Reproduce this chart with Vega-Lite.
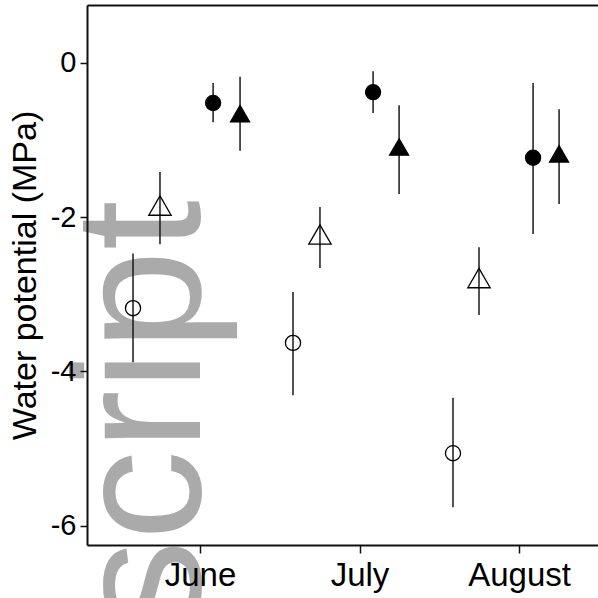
{
  "$schema": "https://vega.github.io/schema/vega-lite/v6.json",
  "width": 511,
  "height": 540,
  "autosize": {"type": "none"},
  "padding": {"left": 87, "top": 5, "right": 0, "bottom": 53},
  "background": "white",
  "config": {
    "view": {"stroke": null},
    "font": "Liberation Sans",
    "axis": {
      "grid": false,
      "domainColor": "#111111",
      "domainWidth": 2,
      "tickColor": "#111111",
      "tickWidth": 1.5,
      "labelColor": "black",
      "titleColor": "black",
      "labelFont": "Liberation Sans",
      "titleFont": "Liberation Sans",
      "zindex": 1
    }
  },
  "data": {
    "values": [
      {"group": "G1", "month": -0.42, "mean": -3.18, "lo": -3.88, "hi": -2.47},
      {"group": "G1", "month": 0.583, "mean": -3.63, "lo": -4.31, "hi": -2.97},
      {"group": "G1", "month": 1.586, "mean": -5.06, "lo": -5.76, "hi": -4.34},
      {"group": "G2", "month": -0.251, "mean": -1.85, "lo": -2.35, "hi": -1.415},
      {"group": "G2", "month": 0.752, "mean": -2.225, "lo": -2.66, "hi": -1.87},
      {"group": "G2", "month": 1.749, "mean": -2.79, "lo": -3.27, "hi": -2.39},
      {"group": "G3", "month": 0.082, "mean": -0.52, "lo": -0.77, "hi": -0.26},
      {"group": "G3", "month": 1.085, "mean": -0.38, "lo": -0.65, "hi": -0.11},
      {"group": "G3", "month": 2.088, "mean": -1.23, "lo": -2.22, "hi": -0.26},
      {"group": "G4", "month": 0.251, "mean": -0.657, "lo": -1.14, "hi": -0.18},
      {"group": "G4", "month": 1.248, "mean": -1.09, "lo": -1.7, "hi": -0.55},
      {"group": "G4", "month": 2.251, "mean": -1.18, "lo": -1.83, "hi": -0.6}
    ]
  },
  "layer": [
    {
      "data": {"values": [{"label": "script", "month": 0.0, "mean": -1.78}]},
      "mark": {"type": "text", "angle": 270, "align": "right", "baseline": "alphabetic", "fontSize": 180, "color": "#aaaaaa", "font": "Liberation Sans"},
      "encoding": {
        "x": {"field": "month", "type": "quantitative", "scale": {"domain": [-0.7085, 2.495], "nice": false, "zero": false},
              "axis": {"orient": "top", "labels": false, "ticks": false, "title": null, "zindex": 2}},
        "y": {"field": "mean", "type": "quantitative", "scale": {"domain": [-6.25, 0.75], "nice": false, "zero": false},
              "axis": {"zindex": 2, "values": [0, -2, -4, -6], "labelExpr": "datum.value == 0 ? '0' : '-' + abs(datum.value)", "tickSize": 7, "labelPadding": 4, "labelFontSize": 29, "title": "Water potential (MPa)", "titleFontSize": 34, "titleFontWeight": "normal", "titleX": -52, "titleBaseline": "alphabetic"}},
        "text": {"field": "label"}
      }
    },
    {
      "mark": {"type": "rule", "color": "#1a1a1a", "strokeWidth": 1.5},
      "encoding": {
        "x": {"field": "month", "type": "quantitative",
              "axis": {"zindex": 2, "orient": "bottom", "values": [0, 1, 2], "labelExpr": "['June','July','August'][datum.value]", "tickSize": 8, "labelPadding": 6, "labelFontSize": 33, "title": null}},
        "y": {"field": "lo", "type": "quantitative"},
        "y2": {"field": "hi"}
      }
    },
    {
      "mark": {"type": "point", "filled": true, "stroke": "black", "strokeWidth": 1.3, "opacity": 1},
      "encoding": {
        "x": {"field": "month", "type": "quantitative", "axis": null},
        "y": {"field": "mean", "type": "quantitative"},
        "shape": {"field": "group", "type": "nominal", "scale": {"domain": ["G1", "G2", "G3", "G4"], "range": ["circle", "triangle-up", "circle", "triangle-up"]}, "legend": null},
        "fill": {"field": "group", "type": "nominal", "scale": {"domain": ["G1", "G2", "G3", "G4"], "range": ["transparent", "transparent", "black", "black"]}, "legend": null},
        "size": {"field": "group", "type": "nominal", "scale": {"type": "ordinal", "domain": ["G1", "G2", "G3", "G4"], "range": [230, 500, 227, 361]}, "legend": null}
      }
    }
  ],
  "resolve": {"axis": {"x": "independent"}}
}
